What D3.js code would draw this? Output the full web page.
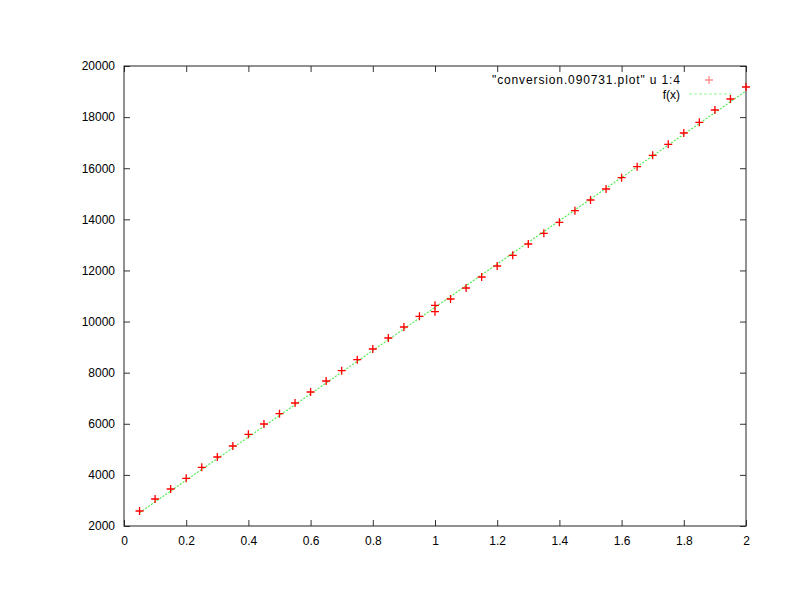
<!DOCTYPE html>
<html><head><meta charset="utf-8">
<script src="https://cdn.jsdelivr.net/npm/d3@7"></script>
<style>
body{margin:0;background:#fff}
svg{display:block}
text{font-family:"Liberation Sans",Arial,sans-serif;font-size:12px;fill:#000}
</style>
</head><body>
<svg id="c" width="792" height="612"></svg>
<script>
// data
const xValues = [0.05,0.1,0.15,0.2,0.25,0.3,0.35,0.4,0.45,0.5,0.55,0.6,0.65,0.7,0.75,0.8,0.85,0.9,0.95,1.0,1.0,1.05,1.1,1.15,1.2,1.25,1.3,1.35,1.4,1.45,1.5,1.55,1.6,1.65,1.7,1.75,1.8,1.85,1.9,1.95,2.0];
const yValues = [2587,3057,3448,3866,4297,4700,5130,5588,5991,6394,6813,7243,7674,8077,8507,8926,9357,9787,10206,10636,10386,10883,11313,11743,12174,12593,13035,13453,13884,14338,14757,15187,15630,16060,16506,16936,17378,17797,18278,18709,19178];
const fitX = [0.05, 2.0];
const fitY = [2520, 19022];
const xTicks = [0,0.2,0.4,0.6,0.8,1,1.2,1.4,1.6,1.8,2];
const yTicks = [2000,4000,6000,8000,10000,12000,14000,16000,18000,20000];
const seriesLabel = '"conversion.090731.plot" u 1:4';
const fitLabel = 'f(x)';

const svg = d3.select('#c');
const L=124, R=746, T=66, B=526;
const x = d3.scaleLinear().domain([0,2]).range([L,R]);
const y = d3.scaleLinear().domain([2000,20000]).range([B,T]);

const fmtX = d => d3.format('')(+d.toFixed(1));

// axes with inward ticks
const gB = svg.append('g').attr('transform',`translate(0,${B})`)
  .call(d3.axisBottom(x).tickValues(xTicks).tickFormat(fmtX).tickSize(-6).tickPadding(10));
const gT = svg.append('g').attr('transform',`translate(0,${T})`)
  .call(d3.axisTop(x).tickValues(xTicks).tickFormat('').tickSize(-6));
const gL = svg.append('g').attr('transform',`translate(${L},0)`)
  .call(d3.axisLeft(y).tickValues(yTicks).tickFormat(d3.format('d')).tickSize(-6).tickPadding(9));
const gR = svg.append('g').attr('transform',`translate(${R},0)`)
  .call(d3.axisRight(y).tickValues(yTicks).tickFormat('').tickSize(-6));
[gB,gT,gL,gR].forEach(g=>{
  g.select('.domain').remove();
  g.selectAll('.tick line').attr('stroke','#333');
  g.selectAll('text').attr('font-family','"Liberation Sans",Arial,sans-serif').attr('font-size',12).attr('fill','#000');
});

svg.append('rect').attr('x',L).attr('y',T).attr('width',R-L).attr('height',B-T)
  .attr('fill','none').attr('stroke','#222').attr('stroke-width',1);

// fit line
const fitData = fitX.map((d,i)=>[d,fitY[i]]);
svg.append('path').datum(fitData)
  .attr('d', d3.line().x(d=>x(d[0])).y(d=>y(d[1])))
  .attr('fill','none').attr('stroke','#55ee55').attr('stroke-width',1.2).attr('stroke-dasharray','2,1.5');

// points
const pts = xValues.map((d,i)=>[d,yValues[i]]);
const s=4;
svg.append('g').selectAll('path').data(pts).join('path')
  .attr('d', d=>{const px=x(d[0]), py=y(d[1]); return `M${px-s},${py}H${px+s}M${px},${py-s}V${py+s}`;})
  .attr('stroke','#ff0000').attr('stroke-width',1.3).attr('fill','none');

// legend
svg.append('text').attr('x',492).attr('y',84).attr('textLength',188).attr('lengthAdjust','spacing').text(seriesLabel);
svg.append('path').attr('d',`M${709-s},80H${709+s}M709,${80-s}V${80+s}`)
  .attr('stroke','#ff0000').attr('stroke-opacity',0.45).attr('stroke-width',1.3);
svg.append('text').attr('x',680).attr('y',99).attr('text-anchor','end').text(fitLabel);
svg.append('line').attr('x1',689).attr('x2',731).attr('y1',94).attr('y2',94)
  .attr('stroke','#55ee55').attr('stroke-opacity',0.6).attr('stroke-width',1.2).attr('stroke-dasharray','3,2');
</script>
</body></html>
